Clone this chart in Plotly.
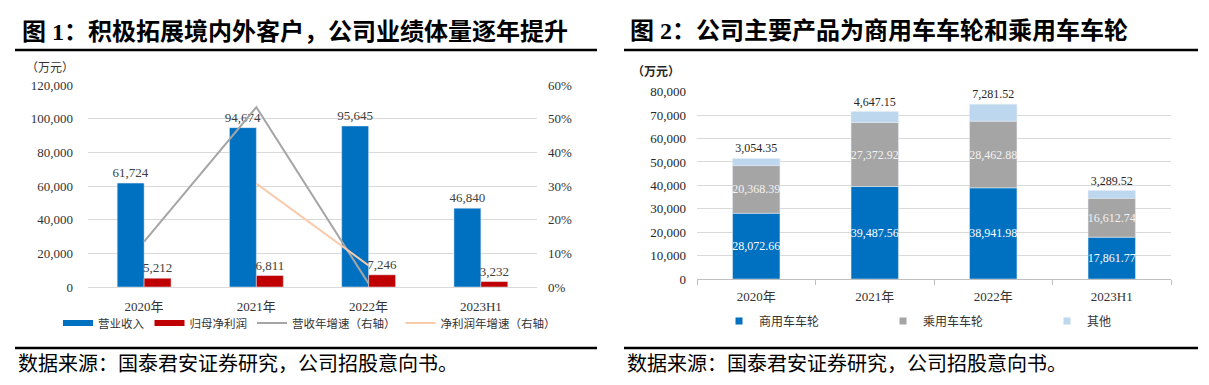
import plotly.graph_objects as go

W, H = 1209, 385


def px(x):
    return x / W


def py(y):
    return 1 - y / H


# ---------------- data ----------------
categories = ["2020年", "2021年", "2022年", "2023H1"]
revenue = [61724, 94674, 95645, 46840]
net_profit = [5212, 6811, 7246, 3232]
rev_growth = [0.135, 0.534, 0.010, None]
np_growth = [None, 0.307, 0.064, None]

commercial = [28072.66, 39487.56, 38941.98, 17861.77]
passenger = [20368.39, 27372.92, 28462.88, 16612.74]
others = [3054.35, 4647.15, 7281.52, 3289.52]

left_names = ["营业收入", "归母净利润", "营收年增速（右轴）", "净利润年增速（右轴）"]
right_names = ["商用车车轮", "乘用车车轮", "其他"]

title1 = "图 1：积极拓展境内外客户，公司业绩体量逐年提升"
title2 = "图 2：公司主要产品为商用车车轮和乘用车车轮"
source = "数据来源：国泰君安证券研究，公司招股意向书。"
unit = "（万元）"

# ---------------- styles ----------------
BLUE = "#0070C0"
RED = "#C00000"
GRAY_LINE = "#A5A5A5"
PEACH = "#F8CBAD"
GRAY_BAR = "#A5A5A5"
LIGHT_BLUE = "#BDD7EE"
GRID = "#D9D9D9"
NUM_FONT = "Liberation Serif, Noto Sans CJK SC"
CJK_FONT = "Noto Sans CJK SC"
TXT = "#333333"

fig = go.Figure()

# ---------- left chart ----------
fig.add_trace(go.Bar(
    x=categories, y=revenue, name=left_names[0], marker_color=BLUE,
    offset=-0.24, width=0.24, xaxis="x", yaxis="y",
    texttemplate="%{y:,.0f}", textposition="outside", constraintext="none",
    textfont=dict(family=NUM_FONT, size=13, color="#404040"),
    cliponaxis=False, showlegend=False,
))
fig.add_trace(go.Bar(
    x=categories, y=net_profit, name=left_names[1], marker_color=RED,
    offset=0, width=0.24, xaxis="x", yaxis="y",
    texttemplate="%{y:,.0f}", textposition="outside", constraintext="none",
    textfont=dict(family=NUM_FONT, size=13, color="#404040"),
    cliponaxis=False, showlegend=False,
))
fig.add_trace(go.Scatter(
    x=categories, y=rev_growth, name=left_names[2], mode="lines",
    line=dict(color=GRAY_LINE, width=2), xaxis="x", yaxis="y2",
    showlegend=False, connectgaps=False,
))
fig.add_trace(go.Scatter(
    x=categories, y=np_growth, name=left_names[3], mode="lines",
    line=dict(color=PEACH, width=2), xaxis="x", yaxis="y2",
    showlegend=False, connectgaps=False,
))

# legend-only entries (left)
for nm, col, w in [(left_names[0], BLUE, 6), (left_names[1], RED, 6),
                   (left_names[2], GRAY_LINE, 2), (left_names[3], PEACH, 2)]:
    fig.add_trace(go.Scatter(
        x=[None], y=[None], mode="lines", name=nm,
        line=dict(color=col, width=w), xaxis="x", yaxis="y",
        legend="legend", showlegend=True,
    ))

# ---------- right chart ----------
base_passenger = list(commercial)
base_others = [c + p for c, p in zip(commercial, passenger)]

fig.add_trace(go.Bar(
    x=categories, y=commercial, name=right_names[0], marker_color=BLUE,
    offset=-0.2, width=0.4, xaxis="x2", yaxis="y3",
    texttemplate="%{y:,.2f}", textposition="inside", insidetextanchor="middle",
    textangle=0, constraintext="none",
    textfont=dict(family=NUM_FONT, size=12, color="#FFFFFF"),
    showlegend=False,
))
fig.add_trace(go.Bar(
    x=categories, y=passenger, base=base_passenger, name=right_names[1],
    marker_color=GRAY_BAR,
    offset=-0.2, width=0.4, xaxis="x2", yaxis="y3",
    texttemplate="%{y:,.2f}", textposition="inside", insidetextanchor="middle",
    textangle=0, constraintext="none",
    textfont=dict(family=NUM_FONT, size=12, color="#F2F2F2"),
    showlegend=False,
))
fig.add_trace(go.Bar(
    x=categories, y=others, base=base_others, name=right_names[2],
    marker_color=LIGHT_BLUE,
    offset=-0.2, width=0.4, xaxis="x2", yaxis="y3",
    texttemplate="%{y:,.2f}", textposition="outside",
    textangle=0, constraintext="none",
    textfont=dict(family=NUM_FONT, size=12, color="#262626"),
    cliponaxis=False, showlegend=False,
))

for nm, col in zip(right_names, [BLUE, GRAY_BAR, LIGHT_BLUE]):
    fig.add_trace(go.Scatter(
        x=[None], y=[None], mode="markers", name=nm,
        marker=dict(color=col, symbol="square", size=7),
        xaxis="x2", yaxis="y3", legend="legend2", showlegend=True,
    ))

# ---------- layout ----------
tickfont = dict(family=NUM_FONT, size=13, color=TXT)

fig.update_layout(
    width=W, height=H,
    margin=dict(l=0, r=0, t=0, b=0, autoexpand=False),
    paper_bgcolor="white", plot_bgcolor="white",
    barmode="group",
    hovermode=False,
    xaxis=dict(domain=[px(88), px(537)], anchor="y", showgrid=False,
               showline=False, ticks="", tickfont=tickfont,
               ticklabelstandoff=10, fixedrange=True, automargin=False),
    yaxis=dict(domain=[py(287), py(85)], anchor="x", range=[0, 120000],
               dtick=20000, tickformat=",", showgrid=True, gridcolor=GRID,
               gridwidth=1, zeroline=True, zerolinecolor=GRID, zerolinewidth=1,
               tickfont=tickfont, ticklabelstandoff=14, showline=False,
               automargin=False),
    yaxis2=dict(overlaying="y", side="right", anchor="x", range=[0, 0.6],
                dtick=0.1, tickformat=".0%", showgrid=False, zeroline=False,
                tickfont=tickfont, ticklabelstandoff=10, automargin=False),
    xaxis2=dict(domain=[px(697), px(1171)], anchor="y3", showgrid=False,
                showline=True, linecolor="#BFBFBF", linewidth=1,
                ticks="outside", tickson="boundaries", ticklen=5,
                tickcolor="#BFBFBF", tickfont=tickfont, ticklabelstandoff=5,
                automargin=False),
    yaxis3=dict(domain=[py(279), py(91.7)], anchor="x2", range=[0, 80000],
                dtick=10000, tickformat=",", showgrid=True, gridcolor=GRID,
                zeroline=False, tickfont=dict(family=NUM_FONT, size=13, color="#262626"),
                ticklabelstandoff=10, showline=False, automargin=False),
    legend=dict(orientation="h", x=px(58), y=py(323), xanchor="left",
                yanchor="middle", font=dict(family=CJK_FONT, size=11.5, color=TXT),
                bgcolor="rgba(0,0,0,0)", itemclick=False),
    legend2=dict(orientation="h", x=px(719), y=py(321), xanchor="left",
                 yanchor="middle", font=dict(family=CJK_FONT, size=12, color=TXT),
                 bgcolor="rgba(0,0,0,0)", entrywidth=119, entrywidthmode="pixels",
                 itemclick=False),
)

# title and source lines
for (x0, x1) in [(15, 597), (624, 1198)]:
    fig.add_shape(type="line", xref="paper", yref="paper",
                  x0=px(x0), x1=px(x1), y0=py(50), y1=py(50),
                  line=dict(color="black", width=2.5))
    fig.add_shape(type="line", xref="paper", yref="paper",
                  x0=px(x0), x1=px(x1), y0=py(348), y1=py(348),
                  line=dict(color="black", width=2.5))

title_font = dict(family="Liberation Serif, Noto Sans CJK SC", size=24, color="black")
src_font = dict(family=CJK_FONT, size=20, color="black")
fig.add_annotation(x=px(20), y=py(31), xref="paper", yref="paper",
                   text="<b>" + title1 + "</b>", showarrow=False,
                   xanchor="left", yanchor="middle", font=title_font)
fig.add_annotation(x=px(628), y=py(31), xref="paper", yref="paper",
                   text="<b>" + title2 + "</b>", showarrow=False,
                   xanchor="left", yanchor="middle", font=title_font)
fig.add_annotation(x=px(16), y=py(362), xref="paper", yref="paper",
                   text=source, showarrow=False,
                   xanchor="left", yanchor="middle", font=src_font)
fig.add_annotation(x=px(625), y=py(362), xref="paper", yref="paper",
                   text=source, showarrow=False,
                   xanchor="left", yanchor="middle", font=src_font)
fig.add_annotation(x=px(24), y=py(66), xref="paper", yref="paper",
                   text=unit, showarrow=False,
                   xanchor="left", yanchor="middle",
                   font=dict(family=CJK_FONT, size=12, color=TXT))
fig.add_annotation(x=px(630), y=py(70), xref="paper", yref="paper",
                   text="<b>" + unit + "</b>", showarrow=False,
                   xanchor="left", yanchor="middle",
                   font=dict(family=CJK_FONT, size=12, color="#262626"))

fig.write_html(
    "out.html",
    config={"displayModeBar": False, "staticPlot": True},
    post_script="document.body.style.margin='0';document.body.style.overflow='hidden';",
)
